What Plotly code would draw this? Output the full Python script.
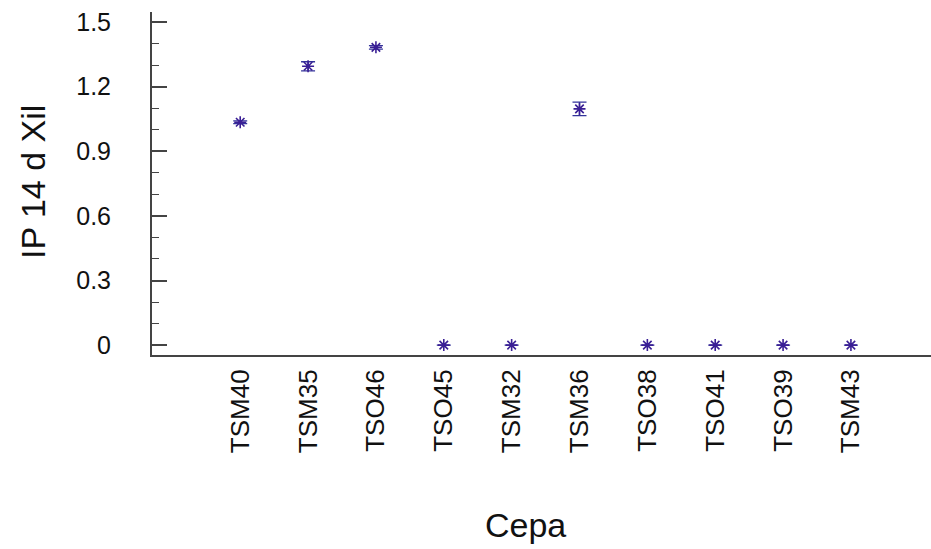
import plotly.graph_objects as go

# Strains (Cepa) and mean IP at 14 days in xylem, with standard errors
cepas = ["TSM40", "TSM35", "TSO46", "TSO45", "TSM32",
         "TSM36", "TSO38", "TSO41", "TSO39", "TSM43"]
ip_14d = [1.035, 1.295, 1.383, 0.0, 0.0, 1.097, 0.0, 0.0, 0.0, 0.0]
err = [0.006, 0.021, 0.008, 0.0, 0.0, 0.031, 0.0, 0.0, 0.0, 0.0]

W, H = 931, 549
L, R, T, B = 152, 0, 12, 194

fig = go.Figure()
fig.add_trace(go.Scatter(
    x=cepas, y=ip_14d,
    mode="markers",
    marker=dict(symbol="asterisk-open", size=10, color="#3a1f95",
                line=dict(color="#3a1f95", width=1.6)),
    error_y=dict(type="data", array=err, visible=True,
                 color="#33339a", thickness=1.3, width=7),
    showlegend=False,
    hoverinfo="x+y",
))

font_family = "Liberation Sans, Arial, sans-serif"

fig.update_layout(
    width=W, height=H,
    margin=dict(l=L, r=R, t=T, b=B, pad=0),
    paper_bgcolor="white",
    plot_bgcolor="white",
    font=dict(family=font_family, color="#111111"),
    xaxis=dict(
        type="category",
        range=[-1.3, 10.18],
        showline=True, linecolor="#444444", linewidth=2,
        ticks="", showgrid=False, zeroline=False,
        tickangle=-90,
        tickfont=dict(size=26, family=font_family, color="#111111"),
        ticklabelstandoff=2,
    ),
    yaxis=dict(
        range=[-0.046, 1.547],
        tickmode="array",
        tickvals=[0, 0.3, 0.6, 0.9, 1.2, 1.5],
        ticktext=["0", "0.3", "0.6", "0.9", "1.2", "1.5"],
        showline=True, linecolor="#444444", linewidth=2,
        ticks="inside", ticklen=15, tickwidth=1.5, tickcolor="#444444",
        minor=dict(ticks="inside", ticklen=7, tickwidth=1.2,
                   tickcolor="#444444", dtick=0.1, tick0=0, showgrid=False),
        showgrid=False, zeroline=False,
        tickfont=dict(size=25, family=font_family, color="#111111"),
        ticklabelstandoff=34,
    ),
)

plot_w = W - L - R
plot_h = H - T - B

# Axis titles placed as annotations in pixel-derived paper coordinates
fig.add_annotation(
    text="IP 14 d Xil", textangle=-90,
    xref="paper", yref="paper",
    x=(33 - L) / plot_w, y=(T + plot_h - 182) / plot_h,
    xanchor="center", yanchor="middle", showarrow=False,
    font=dict(size=34, family=font_family, color="#111111"),
)
fig.add_annotation(
    text="Cepa",
    xref="paper", yref="paper",
    x=(525 - L) / plot_w, y=(T + plot_h - 525) / plot_h,
    xanchor="center", yanchor="middle", showarrow=False,
    font=dict(size=34, family=font_family, color="#111111"),
)

fig.write_html("out.html")
